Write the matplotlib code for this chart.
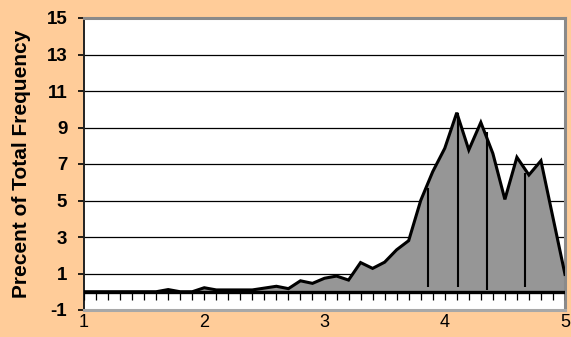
import numpy as np
import matplotlib
matplotlib.use("Agg")
import matplotlib.pyplot as plt

# ---- data ----
x_start, x_step = 1.0, 0.1
freq = [0, 0, 0, 0, 0, 0, 0, 0.12, 0, 0,
        0.22, 0.1, 0.1, 0.1, 0.1, 0.2, 0.3, 0.17, 0.6, 0.46,
        0.74, 0.86, 0.64, 1.6, 1.28, 1.62, 2.3, 2.8, 5.0, 6.58,
        7.86, 9.81, 7.77, 9.28, 7.58, 5.06, 7.37, 6.4, 7.18, 4.06,
        0.95]
drop_x = [3.86, 4.11, 4.35, 4.67]
drop_top = [5.7, 9.8, 8.75, 6.5]
drop_bottom = [0.25, 0.25, 0.12, 0.25]
y_ticks = [-1, 1, 3, 5, 7, 9, 11, 13, 15]
x_ticks = [1, 2, 3, 4, 5]
y_label = "Precent of Total Frequency"

xs = x_start + x_step * np.arange(len(freq))

plt.rcParams['font.family'] = ['Liberation Sans', 'DejaVu Sans']

fig = plt.figure(figsize=(5.71, 3.37), dpi=100, facecolor='#FFCC99')
ax = fig.add_axes([84/571, 1-310/337, (565-84)/571, (310-18)/337])
ax.set_facecolor('white')

ax.set_xlim(1, 5)
ax.set_ylim(-1, 15)

# gridlines
for g in y_ticks[1:-1]:
    ax.axhline(g, color='black', lw=0.9, zorder=1)

# area
ax.fill_between(xs, 0, freq, color='#969696', lw=0, zorder=2)
ax.plot(xs, freq, color='black', lw=2.2, zorder=4, solid_joinstyle='miter')
ax.axhline(0, color='black', lw=2.4, zorder=4)

# drop lines
ax.vlines(drop_x, drop_bottom, drop_top, color='black', lw=1.5, zorder=3)

# minor tick marks hanging below the baseline
tick_xs = x_start + x_step * np.arange(len(freq))
ax.vlines(tick_xs, -0.44, 0, color='black', lw=0.9, zorder=3)

# spines
for s in ['top', 'right']:
    ax.spines[s].set_color('#8a8a8a')
    ax.spines[s].set_linewidth(2.2)
ax.spines['bottom'].set_color('#a8a8a8')
ax.spines['bottom'].set_linewidth(2.2)
ax.spines['left'].set_color('#222222')
ax.spines['left'].set_linewidth(1.4)

ax.set_yticks(y_ticks)
ax.set_yticklabels([str(v) for v in y_ticks], fontsize=13.5, fontweight='bold')
ax.tick_params(axis='y', direction='out', length=4.5, width=1.2, pad=7.5, colors='black')

ax.set_xticks(x_ticks)
ax.set_xticklabels([str(v) for v in x_ticks], fontsize=13)
ax.tick_params(axis='x', length=0, pad=3)

fig.text(21.5/571, 1-164/337, y_label, rotation=90, ha='center', va='center',
         fontsize=15, fontweight='bold')

fig.savefig('out.png', dpi=100, facecolor=fig.get_facecolor())
